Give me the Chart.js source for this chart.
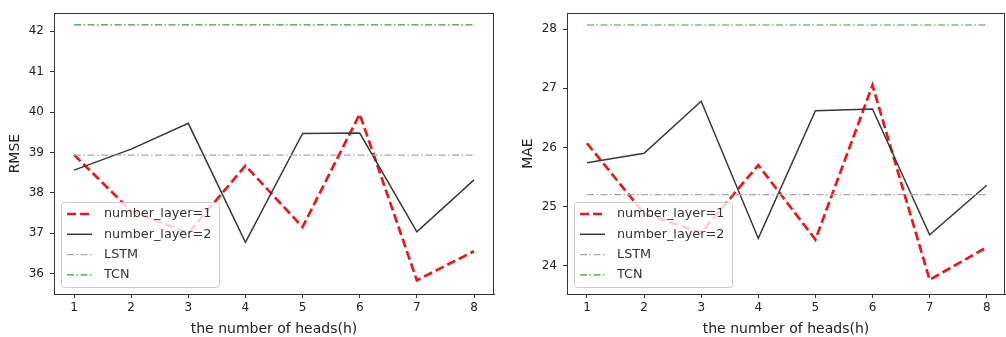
<!DOCTYPE html>
<html>
<head>
<meta charset="utf-8">
<script src="https://cdn.jsdelivr.net/npm/chart.js@4.4.1/dist/chart.umd.min.js"></script>
<style>
  body { margin: 0; background: #fff; }
  canvas { position: absolute; top: 0; }
  #rmse { left: 0; }
  #mae { left: 500px; }
</style>
</head>
<body>
<canvas id="rmse" width="500" height="337"></canvas>
<canvas id="mae" width="506" height="337"></canvas>
<script>
const heads = [1, 2, 3, 4, 5, 6, 7, 8];

// RMSE panel
const rmseLayer1 = [38.94, 37.55, 37.0, 38.67, 37.15, 39.95, 35.83, 36.55];
const rmseLayer2 = [38.56, 39.08, 39.72, 36.77, 39.47, 39.48, 37.03, 38.32];
const rmseLstm = 38.93;
const rmseTcn = 42.16;
const rmseTicks = [36, 37, 38, 39, 40, 41, 42];

// MAE panel
const maeLayer1 = [26.07, 24.88, 24.56, 25.70, 24.44, 27.05, 23.76, 24.31];
const maeLayer2 = [25.74, 25.90, 26.78, 24.46, 26.62, 26.65, 24.52, 25.36];
const maeLstm = 25.2;
const maeTcn = 28.07;
const maeTicks = [24, 25, 26, 27, 28];

const seriesNames = ['number_layer=1', 'number_layer=2', 'LSTM', 'TCN'];

Chart.defaults.font.family = '"DejaVu Sans", sans-serif';
Chart.defaults.font.size = 12;
Chart.defaults.color = '#222';

const toPoints = (vals) => heads.map((h, i) => ({ x: h, y: vals[i] }));
const flat = (v) => heads.map((h) => ({ x: h, y: v }));

// matplotlib-like frame around the plot area
const frame = {
  id: 'frame',
  afterDraw(chart) {
    const { ctx, chartArea: a } = chart;
    ctx.save();
    ctx.strokeStyle = '#333';
    ctx.lineWidth = 1;
    ctx.strokeRect(Math.round(a.left) + 0.5, Math.round(a.top) + 0.5,
      Math.round(a.right - a.left) - 1, Math.round(a.bottom - a.top));
    ctx.restore();
  }
};

// legend box in the lower left corner, drawn over the lines
const boxLegend = {
  id: 'boxLegend',
  afterDatasetsDraw(chart) {
    const { ctx, chartArea: a } = chart;
    const w = 158, h = 85;
    const x = Math.round(a.left) + 7, y = Math.round(a.bottom) - 7 - h;
    ctx.save();
    ctx.fillStyle = 'rgba(255,255,255,0.8)';
    ctx.strokeStyle = 'rgba(200,200,200,0.9)';
    ctx.lineWidth = 1;
    ctx.beginPath();
    ctx.roundRect(x + 0.5, y + 0.5, w, h, 3);
    ctx.fill();
    ctx.stroke();
    ctx.font = '12.8px "DejaVu Sans"';
    ctx.textBaseline = 'middle';
    chart.data.datasets.forEach((ds, i) => {
      const cy = y + 12 + i * 20.3;
      ctx.strokeStyle = ds.borderColor;
      ctx.lineWidth = ds.borderWidth;
      ctx.setLineDash(ds.borderDash || []);
      ctx.beginPath();
      ctx.moveTo(x + 6, cy);
      ctx.lineTo(x + 31, cy);
      ctx.stroke();
      ctx.setLineDash([]);
      ctx.fillStyle = '#333';
      ctx.fillText(ds.label, x + 43, cy);
    });
    ctx.restore();
  }
};

function makeChart(id, yLabel, layer1, layer2, lstm, tcn, yRange, yTicks, xMax, yWidth, titlePad, padRight) {
  return new Chart(document.getElementById(id), {
    type: 'line',
    data: {
      datasets: [
        { label: seriesNames[0], data: toPoints(layer1), borderColor: '#e8191c', borderWidth: 2.7, borderDash: [9, 4], order: 4 },
        { label: seriesNames[1], data: toPoints(layer2), borderColor: '#383838', borderWidth: 1.5, order: 3 },
        { label: seriesNames[2], data: flat(lstm), borderColor: '#a8a8a8', borderWidth: 1.2, borderDash: [7, 2.5, 1.5, 2.5], order: 2 },
        { label: seriesNames[3], data: flat(tcn), borderColor: '#3c9a3c', borderWidth: 1.2, borderDash: [7, 2.5, 1.5, 2.5], order: 1 }
      ]
    },
    options: {
      responsive: false,
      animation: false,
      events: [],
      elements: { point: { radius: 0 }, line: { tension: 0, fill: false } },
      layout: { padding: { top: 10, right: padRight, left: 0, bottom: 0 } },
      plugins: { legend: { display: false }, tooltip: { enabled: false } },
      scales: {
        x: {
          type: 'linear',
          min: 0.65,
          max: xMax,
          afterBuildTicks: (s) => { s.ticks = heads.map((v) => ({ value: v })); },
          afterFit: (s) => { s.height = 43; },
          grid: { drawOnChartArea: false, drawTicks: true, tickLength: 4, color: '#333' },
          border: { display: true, color: '#333' },
          ticks: { padding: 3, maxRotation: 0 },
          title: { display: true, text: 'the number of heads(h)', font: { size: 14 }, color: '#222', padding: { top: 0, bottom: -1 } }
        },
        y: {
          min: yRange[0],
          max: yRange[1],
          afterBuildTicks: (s) => { s.ticks = yTicks.map((v) => ({ value: v })); },
          afterFit: (s) => { s.width = yWidth; },
          grid: { drawOnChartArea: false, drawTicks: true, tickLength: 4, color: '#333' },
          border: { display: true, color: '#333' },
          ticks: { padding: 6 },
          title: { display: true, text: yLabel, font: { size: 14 }, color: '#222', padding: { top: titlePad, bottom: 0 } }
        }
      }
    },
    plugins: [boxLegend, frame]
  });
}

makeChart('rmse', 'RMSE', rmseLayer1, rmseLayer2, rmseLstm, rmseTcn, [35.49, 42.45], rmseTicks, 8.35, 54, 7, 6);
makeChart('mae', 'MAE', maeLayer1, maeLayer2, maeLstm, maeTcn, [23.52, 28.27], maeTicks, 8.32, 67, 20, 1);
</script>
</body>
</html>
